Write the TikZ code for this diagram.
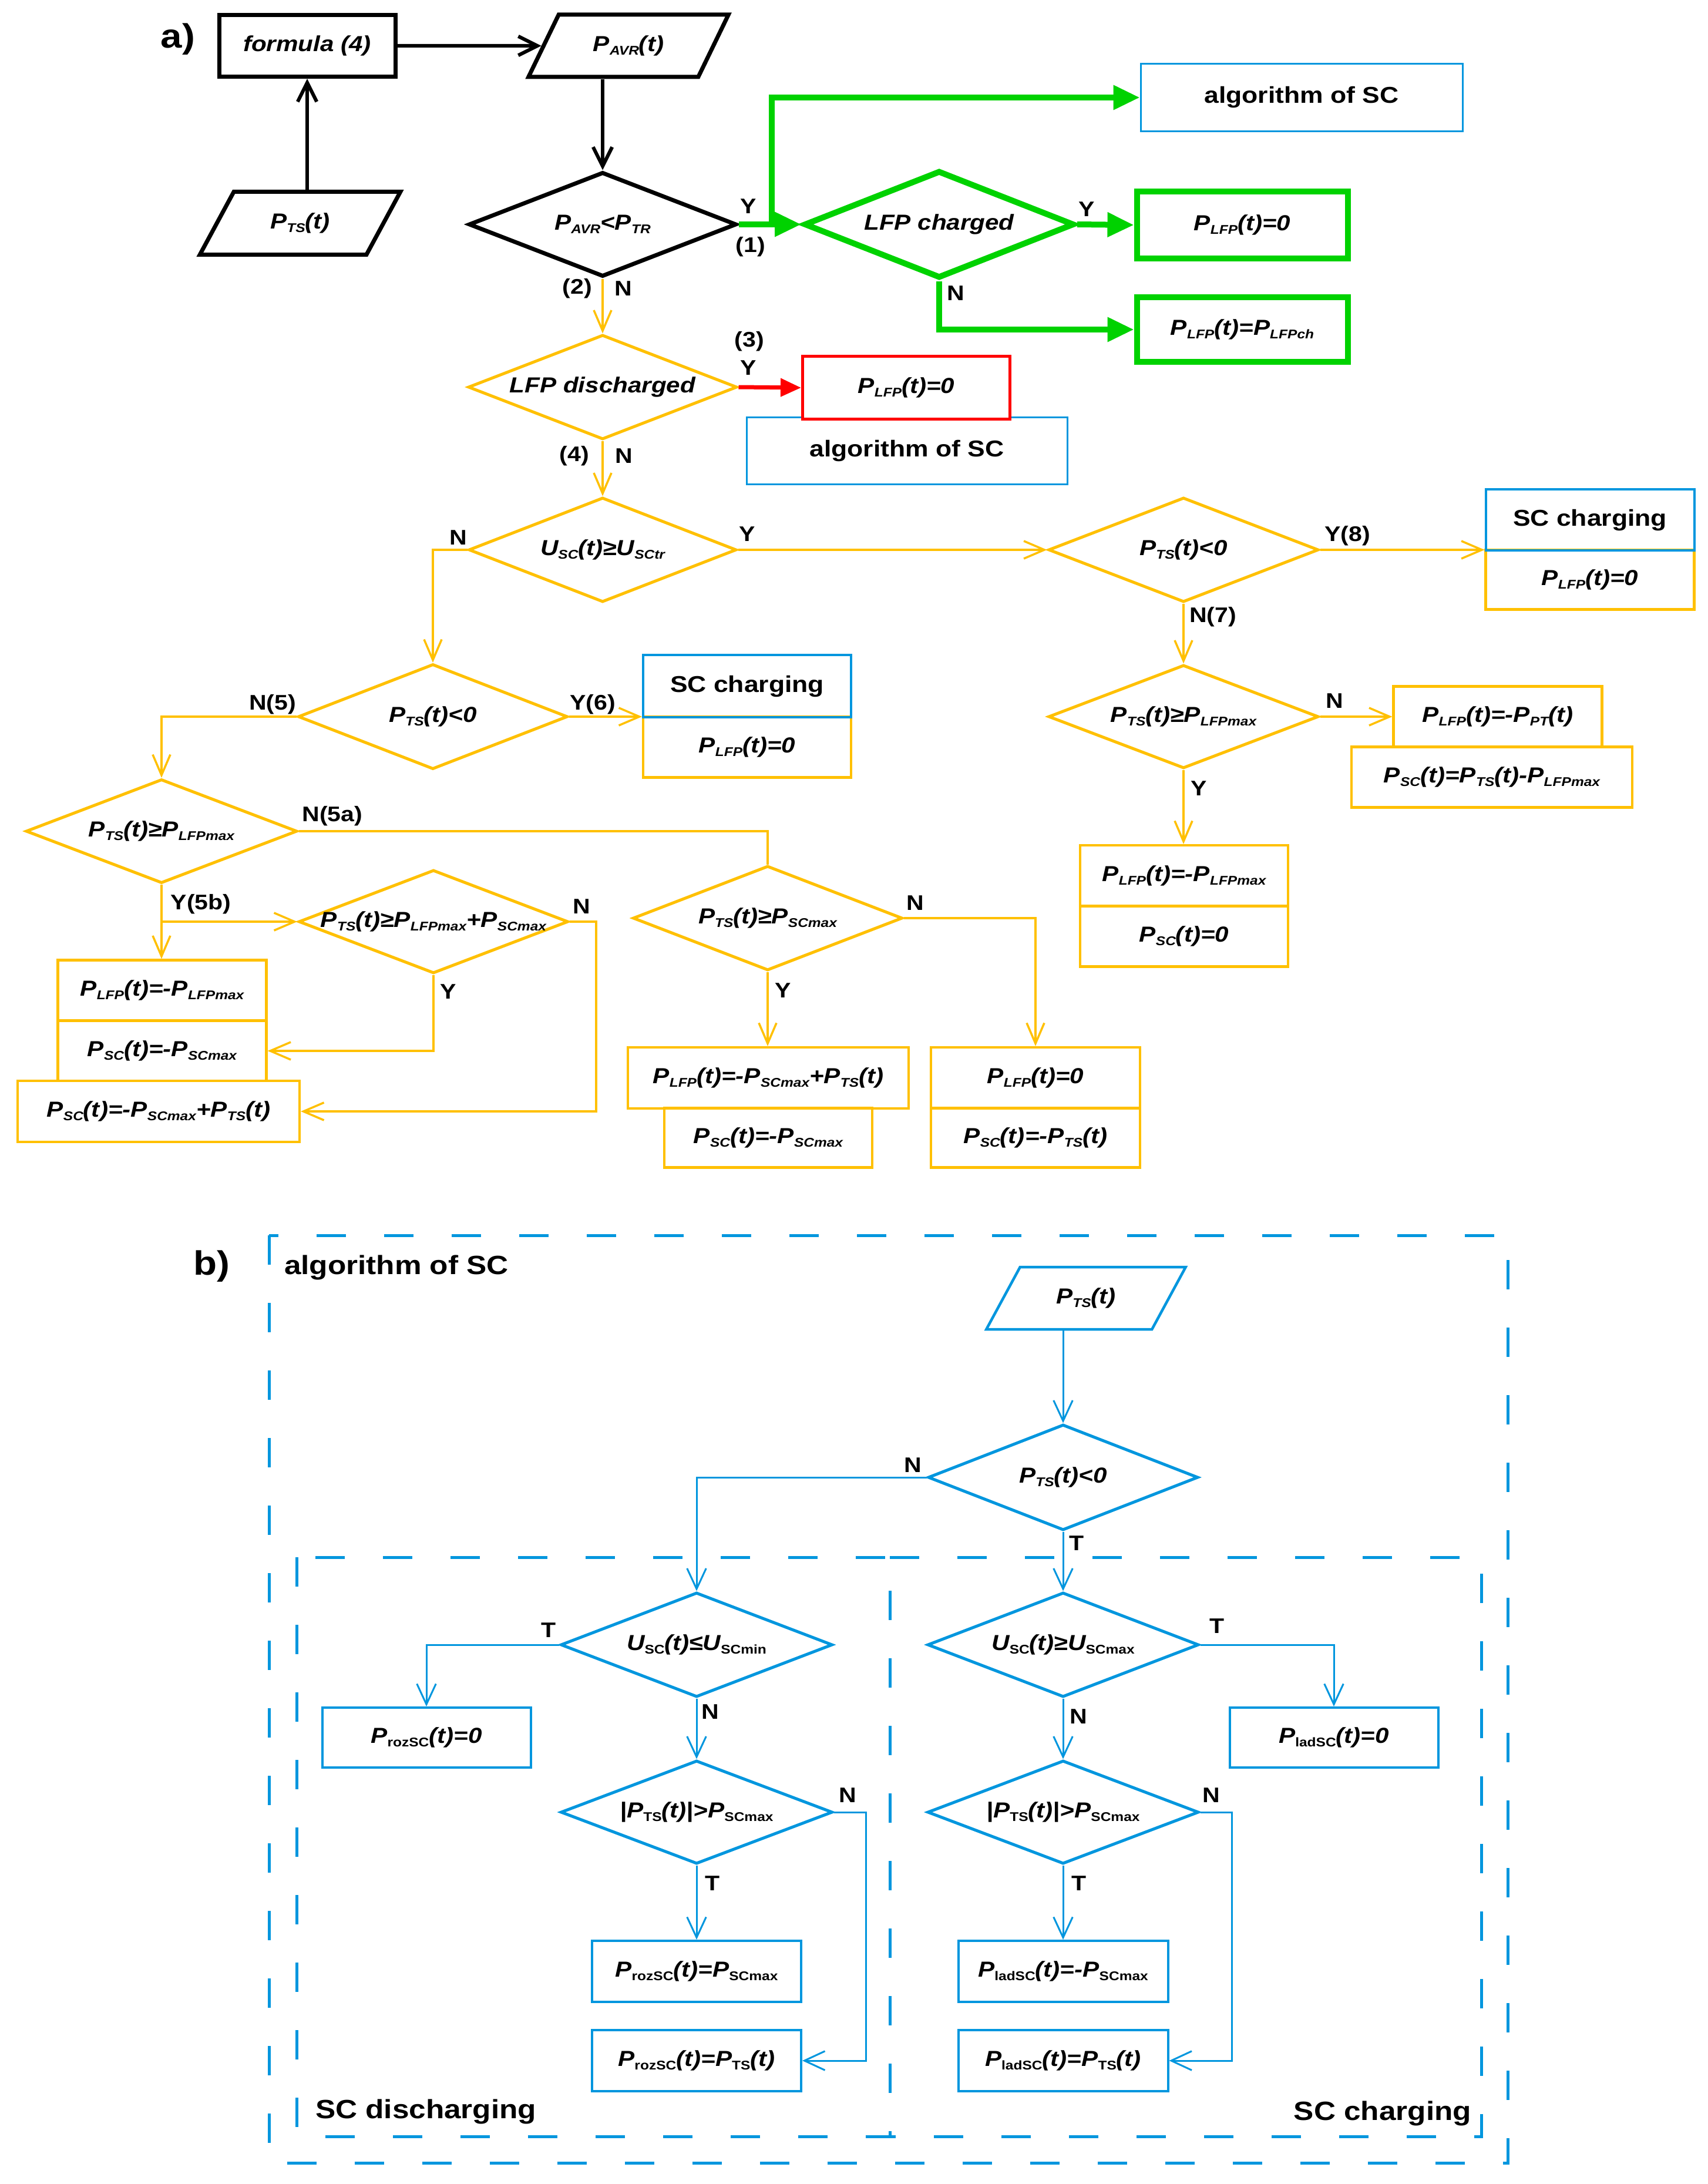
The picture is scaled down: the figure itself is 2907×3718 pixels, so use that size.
\documentclass[tikz,border=0pt]{standalone}
\usepackage{fontspec}
\setmainfont{Liberation Sans}[FakeStretch=1.14]
\usetikzlibrary{shapes.geometric,arrows.meta,calc}
\definecolor{gr}{RGB}{0,210,0}
\definecolor{og}{RGB}{255,192,0}
\definecolor{bl}{RGB}{0,150,222}
\definecolor{rd}{RGB}{255,0,0}
\newcommand\ix[1]{\raisebox{-0.3ex}{\fontsize{4.3pt}{5pt}\selectfont #1}}
\newcommand\iu[1]{\raisebox{-0.3ex}{\fontsize{4.3pt}{5pt}\selectfont\upshape #1}}
\tikzset{
  ft/.style={font=\fontsize{7.4pt}{8pt}\selectfont\bfseries\itshape},
  fu/.style={font=\fontsize{7.8pt}{9pt}\selectfont\bfseries},
  lab/.style={font=\fontsize{7.2pt}{8pt}\selectfont\bfseries, inner sep=0pt},
  big/.style={font=\fontsize{9pt}{10pt}\selectfont\bfseries, inner sep=0pt},
  hl/.style={font=\fontsize{11.5pt}{12pt}\selectfont\bfseries, inner sep=0pt},
  sz/.style 2 args={minimum width=#1*0.2pt, minimum height=#2*0.2pt},
  rbx/.style={rectangle, inner sep=0pt, ft},
  dia/.style={diamond, inner sep=0pt},
  para/.style={trapezium, trapezium left angle=53, trapezium right angle=127, trapezium stretches=true, inner sep=0pt, ft},
  kb/.style={draw=black, line width=1.4pt},
  kc/.style={black, line width=1.2pt, -{Straight Barb[length=6.5pt,width=6.5pt]}},
  gb/.style={draw=gr, line width=2pt},
  gc/.style={gr, line width=2pt, -{Triangle[length=9pt,width=8pt]}},
  ob/.style={draw=og, line width=0.85pt},
  oc/.style={og, line width=0.7pt, -{Straight Barb[length=7pt,width=6pt]}},
  oline/.style={og, line width=0.7pt},
  rb/.style={draw=rd, line width=1pt},
  rc/.style={rd, line width=1.4pt, -{Triangle[length=7pt,width=6pt]}},
  ab/.style={draw=bl, line width=0.6pt},
  bb/.style={draw=bl, line width=0.9pt},
  bc/.style={bl, line width=0.6pt, -{Straight Barb[length=7pt,width=6.5pt]}},
  dsh/.style={draw=bl, line width=1pt, dash pattern=on 10pt off 13pt},
}
\begin{document}
\begin{tikzpicture}[x=0.2pt,y=-0.2pt]
\fill[white] (0,0) rectangle (2907,3718);
\useasboundingbox (0,0) rectangle (2907,3718);

% ---------------- part a ----------------
\node[hl] (la) at (303,67) {a)};
\node[rbx, kb, sz={300}{105}] (formula) at (523,78) {formula (4)};
\node[para, kb, sz={341}{106}] (pavr) at (1070,78) {P\ix{AVR}(t)};
\node[para, kb, sz={342}{107}] (pts) at (511,380) {P\ix{TS}(t)};
\node[dia, draw=black, line width=1.4pt, sz={456}{178}, label={[ft]center:{P\ix{AVR}<P\ix{TR}}}] (d1) at (1026,382) {};

\draw[kc] (formula) -- (pavr);
\draw[kc] (formula.south |- pts.north) -- (formula.south);
\draw[kc] (d1.north |- pavr.south) -- (d1.north);

% green branch
\node[rectangle, ab, fu, sz={548}{115}] (alg1) at (2216,166) {algorithm of SC};
\node[dia, gb, sz={460}{183}, label={[ft]center:{LFP charged}}] (d2) at (1599,382) {};
\node[rbx, gb, sz={359}{113}] (g1) at (2115,383) {P\ix{LFP}(t)=0};
\node[rbx, gb, sz={359}{110}] (g2) at (2115,561) {P\ix{LFP}(t)=P\ix{LFPch}};
\coordinate (jg) at (1314,382);
\draw[gc] (d1.east) -- (d2.west);
\draw[gc] (jg) |- (alg1.west);
\draw[gc] (d2.east) -- (g1.west);
\draw[gc] (d2.south) |- (g2.west);
\node[lab] (y1) at (1274,351) {Y};
\node[lab] (n1) at (1278,420) {(1)};
\node[lab] (y2) at (1850,356) {Y};
\node[lab] (n2) at (1627,499) {N};

% LFP discharged
\node[dia, draw=og, line width=1pt, sz={458}{178}, label={[ft]center:{LFP discharged}}] (d3) at (1026,659) {};
\draw[oc] (d1.south) -- (d3.north);
\node[lab] (l2a) at (983,491) {(2)};
\node[lab] (l2b) at (1061,491) {N};
\node[rectangle, ab, fu, sz={546}{114}] (alg2) at (1544,767) {algorithm of SC};
\node[rbx, rb, fill=white, sz={353}{107}] (r1) at (1543,660) {P\ix{LFP}(t)=0};
\draw[rc] (d3.east) -- (r1.west);
\node[lab] (l3a) at (1276,581) {(3)};
\node[lab] (l3b) at (1274,626) {Y};

% Usc test
\node[dia, draw=og, line width=1pt, sz={456}{178}, label={[ft]center:{U\ix{SC}(t)≥U\ix{SCtr}}}] (d4) at (1026,936) {};
\draw[oc] (d3.south) -- (d4.north);
\node[lab] (l4a) at (978,776) {(4)};
\node[lab] (l4b) at (1062,776) {N};

% left PTS<0
\node[dia, draw=og, line width=1pt, sz={459}{179}, label={[ft]center:{P\ix{TS}(t)<0}}] (d5) at (737,1220) {};
\draw[oc] (d4.west) -| (d5.north);
\node[lab] (l5n) at (780,915) {N};
\node[rbx, ob, sz={354}{103}] (o1) at (1272,1272) {P\ix{LFP}(t)=0};
\node[rectangle, inner sep=0pt, bb, line width=0.8pt, fu, sz={354}{106}] (sc1) at (1272,1168) {SC charging};
\draw[oc] (d5.east) -- (d5.east -| sc1.west);
\node[lab] (l6) at (1009,1199) {Y(6)};

% right PTS<0
\node[dia, draw=og, line width=1pt, sz={460}{178}, label={[ft]center:{P\ix{TS}(t)<0}}] (d6) at (2015,936) {};
\draw[oc] (d4.east) -- (d6.west);
\node[lab] (l4y) at (1272,909) {Y};
\node[rbx, ob, sz={355}{101}] (o2) at (2707,987) {P\ix{LFP}(t)=0};
\node[rectangle, inner sep=0pt, bb, line width=0.8pt, fu, sz={355}{104}] (sc2) at (2707,885) {SC charging};
\draw[oc] (d6.east) -- (d6.east -| sc2.west);
\node[lab] (l8) at (2294,912) {Y(8)};

\node[dia, draw=og, line width=1pt, sz={460}{176}, label={[ft]center:{P\ix{TS}(t)≥P\ix{LFPmax}}}] (d7) at (2015,1220) {};
\draw[oc] (d6.south) -- (d7.north);
\node[lab] (l7) at (2065,1050) {N(7)};
\node[rbx, ob, sz={355}{103}] (o3) at (2550,1220) {P\ix{LFP}(t)=-P\ix{PT}(t)};
\node[rbx, ob, sz={478}{103}] (o4) at (2540,1323) {P\ix{SC}(t)=P\ix{TS}(t)-P\ix{LFPmax}};
\draw[oc] (d7.east) -- (o3.west);
\node[lab] (l7n) at (2272,1193) {N};
\node[rbx, ob, sz={354}{104}] (o5) at (2016,1491) {P\ix{LFP}(t)=-P\ix{LFPmax}};
\node[rbx, ob, sz={354}{103}] (o6) at (2016,1594) {P\ix{SC}(t)=0};
\draw[oc] (d7.south) -- (d7.south |- o5.north);
\node[lab] (l7y) at (2041,1342) {Y};

% left lower part
\node[dia, draw=og, line width=1pt, sz={462}{177}, label={[ft]center:{P\ix{TS}(t)≥P\ix{LFPmax}}}] (d8) at (275,1415) {};
\draw[oc] (d5.west) -| (d8.north);
\node[lab] (l5) at (464,1199) {N(5)};
\node[dia, draw=og, line width=1pt, sz={459}{178}, label={[ft]center:{P\ix{TS}(t)≥P\ix{SCmax}}}] (d9) at (1307,1563) {};
\draw[oline] (d8.east) -| (d9.north);
\node[lab] (l5a) at (566,1389) {N(5a)};
\node[dia, draw=og, line width=1pt, sz={459}{176}, label={[ft]center:{P\ix{TS}(t)≥P\ix{LFPmax}+P\ix{SCmax}}}] (d10) at (738,1569) {};
\node[rbx, ob, sz={355}{103}] (o7) at (276,1686) {P\ix{LFP}(t)=-P\ix{LFPmax}};
\node[rbx, ob, sz={355}{102}] (o8) at (276,1789) {P\ix{SC}(t)=-P\ix{SCmax}};
\node[rbx, ob, sz={480}{104}] (o9) at (270,1892) {P\ix{SC}(t)=-P\ix{SCmax}+P\ix{TS}(t)};
\coordinate (jb) at (275,1569);
\draw[oc] (d8.south) -- (d8.south |- o7.north);
\draw[oc] (jb) -- (d10.west);
\node[lab] (l5b) at (342,1539) {Y(5b)};
\draw[oc] (d10.south) |- (o8.east);
\node[lab] (l10y) at (763,1688) {Y};
\coordinate (c10) at (1015,1569);
\draw[oc] (d10.east) -- (c10) |- (o9.east);
\node[lab] (l10n) at (990,1543) {N};

\node[rbx, ob, sz={478}{104}] (o10) at (1308,1835) {P\ix{LFP}(t)=-P\ix{SCmax}+P\ix{TS}(t)};
\node[rbx, ob, sz={354}{101}] (o11) at (1308,1937) {P\ix{SC}(t)=-P\ix{SCmax}};
\node[rbx, ob, sz={356}{104}] (o12) at (1763,1835) {P\ix{LFP}(t)=0};
\node[rbx, ob, sz={356}{101}] (o13) at (1763,1937) {P\ix{SC}(t)=-P\ix{TS}(t)};
\draw[oc] (d9.south) -- (d9.south |- o10.north);
\node[lab] (l9y) at (1333,1686) {Y};
\draw[oc] (d9.east) -| (o12.north);
\node[lab] (l9n) at (1558,1537) {N};

% ---------------- part b ----------------
\draw[dsh] (458,2103) rectangle (2567,3682);
\draw[dsh] (505,2651) rectangle (1515,3637);
\draw[dsh] (1515,2651) -- (2522,2651) -- (2522,3637) -- (1515,3637);
\node[hl] (lb) at (360,2156) {b)};
\node[big, anchor=west] (bt) at (483,2158) {algorithm of SC};
\node[big, anchor=west] (sdl) at (536,3595) {SC discharging};
\node[big, anchor=east] (scl) at (2506,3598) {SC charging};

\node[para, bb, sz={340}{106}] (bpts) at (1849,2210) {P\ix{TS}(t)};
\node[dia, draw=bl, line width=1pt, sz={460}{180}, label={[ft]center:{P\ix{TS}(t)<0}}] (bd1) at (1810,2515) {};
\draw[bc] (bd1.north |- bpts.south) -- (bd1.north);

\node[dia, draw=bl, line width=1pt, sz={463}{178}, label={[ft]center:{U\iu{SC}(t)≤U\iu{SCmin}}}] (bd2) at (1186,2800) {};
\node[dia, draw=bl, line width=1pt, sz={462}{178}, label={[ft]center:{U\iu{SC}(t)≥U\iu{SCmax}}}] (bd3) at (1810,2800) {};
\draw[bc] (bd1.west) -| (bd2.north);
\node[lab] (bn1) at (1554,2494) {N};
\draw[bc] (bd1.south) -- (bd3.north);
\node[lab] (bt1) at (1833,2627) {T};

\node[rbx, bb, line width=0.8pt, sz={355}{102}] (bb1) at (726,2958) {P\iu{rozSC}(t)=0};
\draw[bc] (bd2.west) -| (bb1.north);
\node[lab] (bt2) at (934,2775) {T};
\node[dia, draw=bl, line width=1pt, sz={463}{176}, label={[ft]center:{|P\iu{TS}(t)|>P\iu{SCmax}}}] (bd4) at (1186,3085) {};
\draw[bc] (bd2.south) -- (bd4.north);
\node[lab] (bn2) at (1209,2914) {N};
\node[rbx, bb, line width=0.8pt, sz={356}{104}] (bb2) at (1186,3356) {P\iu{rozSC}(t)=P\iu{SCmax}};
\node[rbx, bb, line width=0.8pt, sz={356}{104}] (bb3) at (1186,3508) {P\iu{rozSC}(t)=P\iu{TS}(t)};
\draw[bc] (bd4.south) -- (bb2.north);
\node[lab] (bt3) at (1213,3206) {T};
\coordinate (cb4) at (1474,3085);
\draw[bc] (bd4.east) -- (cb4) |- (bb3.east);
\node[lab] (bn3) at (1443,3056) {N};

\node[rbx, bb, line width=0.8pt, sz={355}{102}] (bb4) at (2271,2958) {P\iu{ladSC}(t)=0};
\draw[bc] (bd3.east) -| (bb4.north);
\node[lab] (bt4) at (2072,2768) {T};
\node[dia, draw=bl, line width=1pt, sz={462}{176}, label={[ft]center:{|P\iu{TS}(t)|>P\iu{SCmax}}}] (bd5) at (1810,3085) {};
\draw[bc] (bd3.south) -- (bd5.north);
\node[lab] (bn4) at (1836,2922) {N};
\node[rbx, bb, line width=0.8pt, sz={357}{104}] (bb5) at (1810,3356) {P\iu{ladSC}(t)=-P\iu{SCmax}};
\node[rbx, bb, line width=0.8pt, sz={357}{104}] (bb6) at (1810,3508) {P\iu{ladSC}(t)=P\iu{TS}(t)};
\draw[bc] (bd5.south) -- (bb5.north);
\node[lab] (bt5) at (1837,3206) {T};
\coordinate (cb5) at (2097,3085);
\draw[bc] (bd5.east) -- (cb5) |- (bb6.east);
\node[lab] (bn5) at (2062,3056) {N};
\end{tikzpicture}
\end{document}
